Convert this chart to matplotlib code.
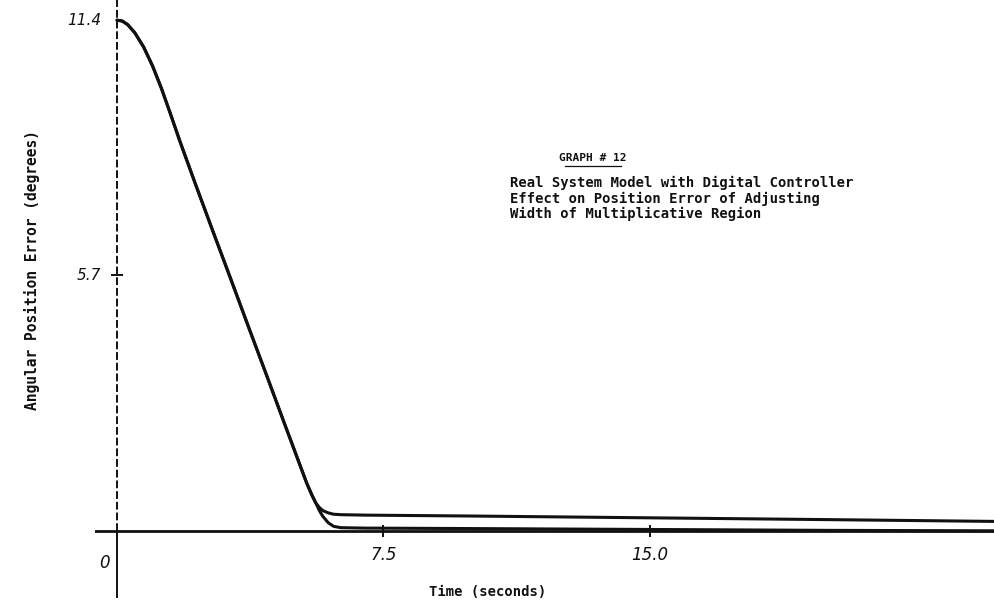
import matplotlib
matplotlib.use('Agg')
import matplotlib.pyplot as plt
from matplotlib.lines import Line2D

# ---- data ----
time_common = [0.0, 0.15, 0.3, 0.5, 0.75, 1.0, 1.25, 1.5, 1.77, 2.2, 2.7, 3.2, 3.7, 4.2, 4.7, 5.1, 5.35, 5.5, 5.6]
err_common = [11.4, 11.38, 11.3, 11.12, 10.8, 10.38, 9.88, 9.32, 8.7, 7.76, 6.69, 5.63, 4.56, 3.5, 2.43, 1.58, 1.05, 0.78, 0.62]

time_tail = [5.7, 5.8, 5.95, 6.1, 6.3, 7.0, 10.0, 15.0, 20.0, 24.7]
err_wide = [0.52, 0.45, 0.40, 0.37, 0.36, 0.35, 0.33, 0.29, 0.25, 0.21]
err_narrow = [0.45, 0.32, 0.18, 0.10, 0.07, 0.06, 0.05, 0.03, 0.01, 0.0]

x_ticks = [7.5, 15.0]
x_tick_labels = ["7.5", "15.0"]
y_ticks = [5.7, 11.4]
y_tick_labels = ["5.7", "11.4"]

title_head = "GRAPH # 12"
title_lines = ["Real System Model with Digital Controller",
               "Effect on Position Error of Adjusting",
               "Width of Multiplicative Region"]
x_label = "Time (seconds)"
y_label = "Angular Position Error (degrees)"

# ---- figure ----
W, H = 995, 606
fig = plt.figure(figsize=(W / 100, H / 100), dpi=100)
fig.patch.set_facecolor('white')

ax = fig.add_axes([95 / W, (H - 598) / H, 900 / W, 598 / H])
ax.set_xlim(-0.62, 24.73)
ax.set_ylim(-1.5, 11.85)
ax.axis('off')

ink = '#111111'

# axes lines
ax.axhline(0, color=ink, lw=2.0, zorder=2)
ax.plot([0, 0], [-1.5, 0], color=ink, lw=1.4, zorder=2)
ax.plot([0, 0], [0, 11.85], color=ink, lw=1.4, ls=(0, (4, 1.5)), zorder=2)

# ticks
ax.plot(x_ticks, [0] * len(x_ticks), ls='none', marker='|', ms=8, mew=1.4, color=ink)
ax.plot([0], y_ticks[:1], ls='none', marker='_', ms=8, mew=1.4, color=ink)

tick_font = dict(family='DejaVu Sans', style='italic', size=12, color=ink)
ax.text(-0.35, -0.72, "0", ha='center', va='center', **tick_font)
for xv, lab in zip(x_ticks, x_tick_labels):
    ax.text(xv, -0.55, lab, ha='center', va='center', **tick_font)
for yv, lab in zip(y_ticks, y_tick_labels):
    ax.text(-0.45, yv, lab, ha='right', va='center', fontsize=11,
            family='DejaVu Sans', style='italic', color=ink, clip_on=False)

# curves
t_wide = time_common + time_tail
y_wide = err_common + err_wide
t_narrow = time_common + time_tail
y_narrow = err_common + err_narrow
ax.plot(t_wide, y_wide, color=ink, lw=2.2, solid_capstyle='round', solid_joinstyle='round', zorder=3)
ax.plot(t_narrow, y_narrow, color=ink, lw=2.2, solid_capstyle='round', solid_joinstyle='round', zorder=3)

# texts
mono = dict(family='DejaVu Sans Mono', weight='bold', color=ink)
fig.text(593 / W, 1 - 158 / H, title_head, ha='center', va='center', fontsize=8, **mono)
fig.add_artist(Line2D([565 / W, 621 / W], [1 - 166 / H, 1 - 166 / H], color=ink, lw=0.9))
for i, line in enumerate(title_lines):
    fig.text(510 / W, 1 - (183 + 15.5 * i) / H, line, ha='left', va='center', fontsize=10, **mono)

fig.text(488 / W, 1 - 592 / H, x_label, ha='center', va='center', fontsize=10, **mono)
fig.text(32 / W, 1 - 270 / H, y_label, ha='center', va='center', rotation=90, fontsize=10.5, **mono)

fig.savefig('out.png', dpi=100, facecolor='white')
